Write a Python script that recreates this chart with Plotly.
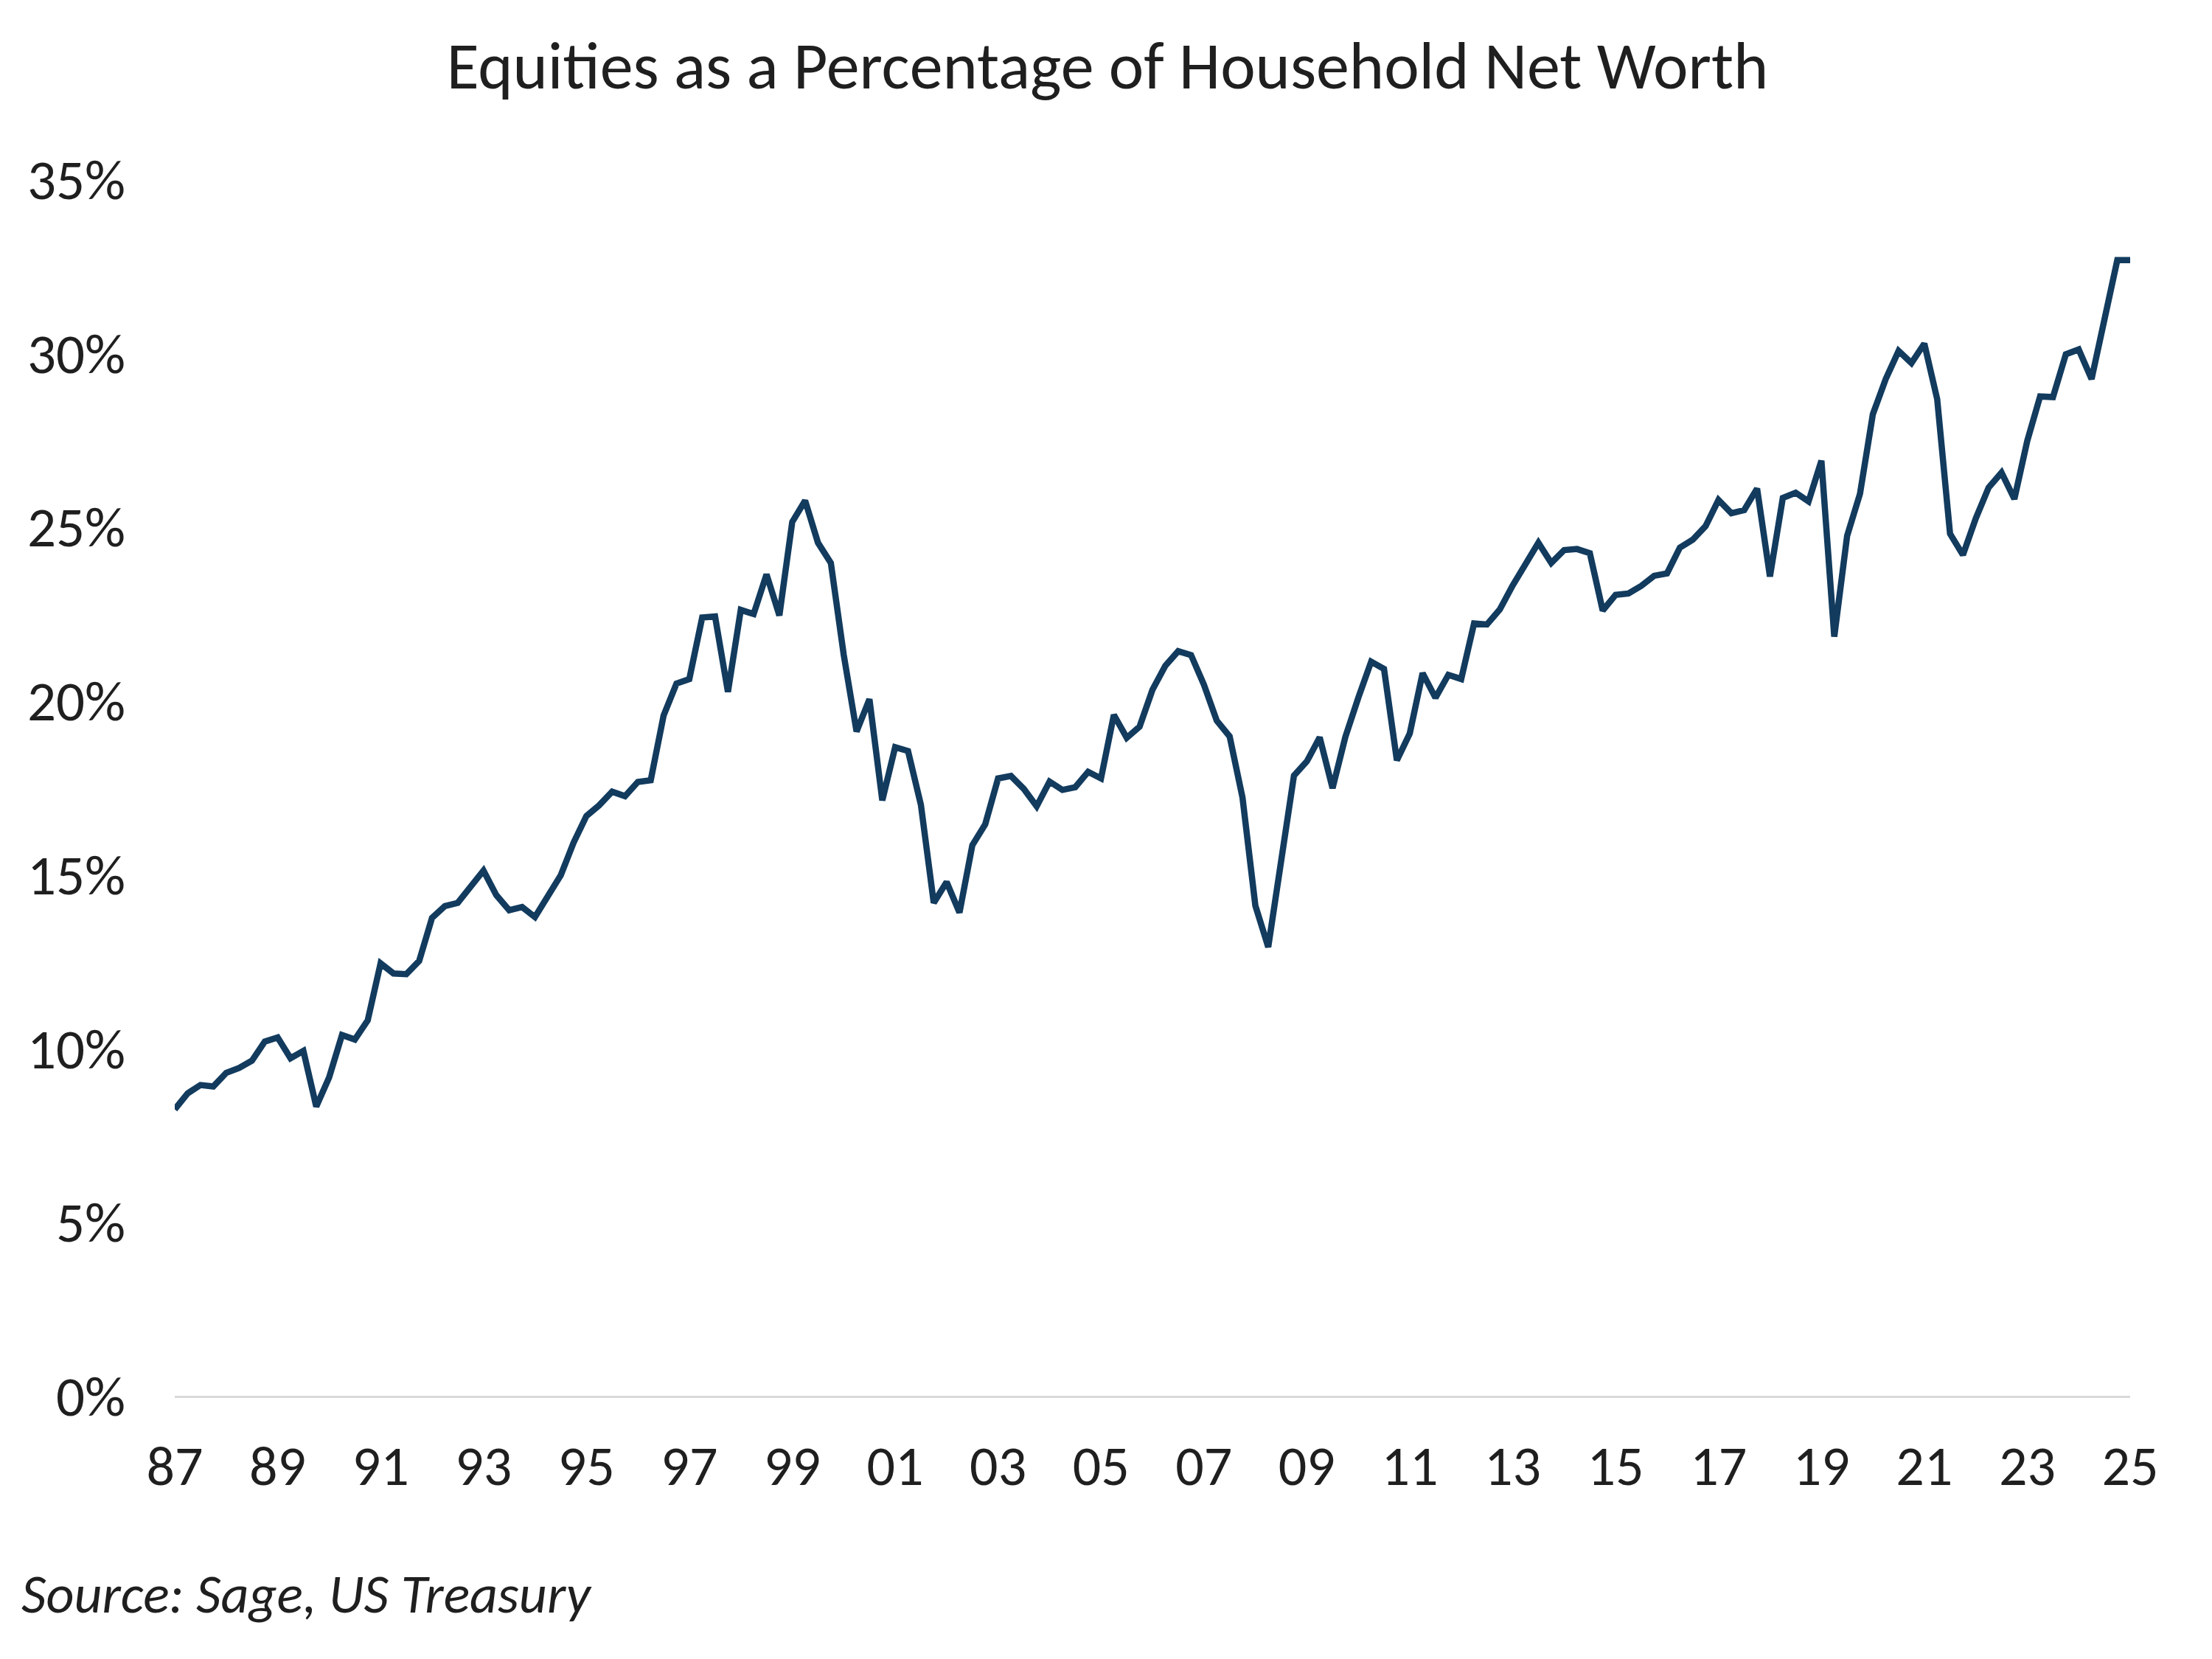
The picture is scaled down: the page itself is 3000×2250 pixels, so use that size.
import plotly.graph_objects as go

# Quarterly observations, 1987 Q1 .. 2025 Q1
start_year = 1987
end_year = 2025
quarters = [f"{y} Q{q}" for y in range(start_year, end_year + 1) for q in range(1, 5)]
quarters = quarters[:quarters.index("2025 Q1") + 1]

equity_share = [
    8.24, 8.70, 8.94, 8.90, 9.29, 9.43, 9.64, 10.19, 10.31, 9.71,
    9.92, 8.32, 9.16, 10.38, 10.25, 10.80, 12.44, 12.15, 12.13, 12.51,
    13.75, 14.09, 14.18, 14.64, 15.11, 14.40, 13.97, 14.06, 13.77, 14.37,
    14.97, 15.91, 16.68, 16.99, 17.38, 17.25, 17.66, 17.71, 19.57, 20.49,
    20.62, 22.39, 22.42, 20.25, 22.61, 22.49, 23.63, 22.45, 25.14, 25.75,
    24.54, 23.96, 21.32, 19.11, 20.04, 17.13, 18.66, 18.55, 17.00, 14.18,
    14.78, 13.90, 15.84, 16.44, 17.76, 17.83, 17.46, 16.96, 17.67, 17.43,
    17.51, 17.95, 17.76, 19.59, 18.93, 19.25, 20.31, 21.00, 21.42, 21.31,
    20.46, 19.42, 18.97, 17.21, 14.10, 12.91, 15.51, 17.84, 18.25, 18.94,
    17.48, 18.96, 20.08, 21.12, 20.91, 18.28, 19.05, 20.79, 20.08, 20.74,
    20.62, 22.22, 22.19, 22.62, 23.31, 23.96, 24.54, 23.96, 24.33, 24.36,
    24.24, 22.59, 23.04, 23.08, 23.30, 23.59, 23.66, 24.40, 24.63, 25.02,
    25.77, 25.39, 25.48, 26.10, 23.57, 25.83, 25.98, 25.73, 26.90, 21.84,
    24.74, 25.95, 28.24, 29.25, 30.06, 29.71, 30.27, 28.67, 24.80, 24.19,
    25.24, 26.13, 26.56, 25.80, 27.47, 28.75, 28.73, 29.96, 30.10, 29.25,
    30.86, 32.67, 32.67,
]

tick_years = list(range(1987, 2026, 2))
tick_vals = [f"{y} Q1" for y in tick_years]
tick_text = [f"{y % 100:02d}" for y in tick_years]

y_ticks = [0, 5, 10, 15, 20, 25, 30, 35]
y_ticktext = [f"{v}%" for v in y_ticks]

FONT = "Carlito, Lato, sans-serif"
TEXT = "#1f1f1f"

W, H = 3000, 2250
ML, MR, MT, MB = 229, 119, 235, 365
PW, PH = W - ML - MR, H - MT - MB

fig = go.Figure()
fig.add_trace(go.Scatter(
    x=quarters, y=equity_share, mode="lines",
    line=dict(color="#123B5E", width=8.5),
    hoverinfo="skip", showlegend=False,
))

fig.update_layout(
    width=W, height=H,
    paper_bgcolor="white", plot_bgcolor="white",
    margin=dict(l=ML, r=MR, t=MT, b=MB),
    font=dict(family=FONT, color=TEXT),
    title=dict(
        text="Equities as a Percentage of Household Net Worth",
        x=0.498, xanchor="center", xref="container",
        y=1 - 80 / H, yanchor="middle", yref="container",
        font=dict(family=FONT, size=90, color=TEXT),
    ),
    annotations=[dict(
        text="<i>Source: Sage, US Treasury</i>",
        xref="paper", yref="paper",
        x=(19 - ML) / PW, y=-(2154 - (H - MB)) / PH,
        xanchor="left", yanchor="middle", showarrow=False,
        font=dict(family=FONT, size=74, color=TEXT),
    )],
)

fig.update_xaxes(
    type="category", categoryorder="array", categoryarray=quarters,
    range=[0, len(quarters) - 1],
    tickmode="array", tickvals=tick_vals, ticktext=tick_text,
    showgrid=False, zeroline=False,
    showline=True, linecolor="#D9D9D9", linewidth=3,
    ticks="", ticklabelstandoff=27,
    tickfont=dict(family=FONT, size=76, color=TEXT),
)
fig.update_yaxes(
    range=[0, 35], tickmode="array", tickvals=y_ticks, ticktext=y_ticktext,
    showgrid=False, zeroline=False, showline=False,
    ticks="", ticklabelstandoff=66,
    tickfont=dict(family=FONT, size=77, color=TEXT),
)

fig.write_html("out.html")
